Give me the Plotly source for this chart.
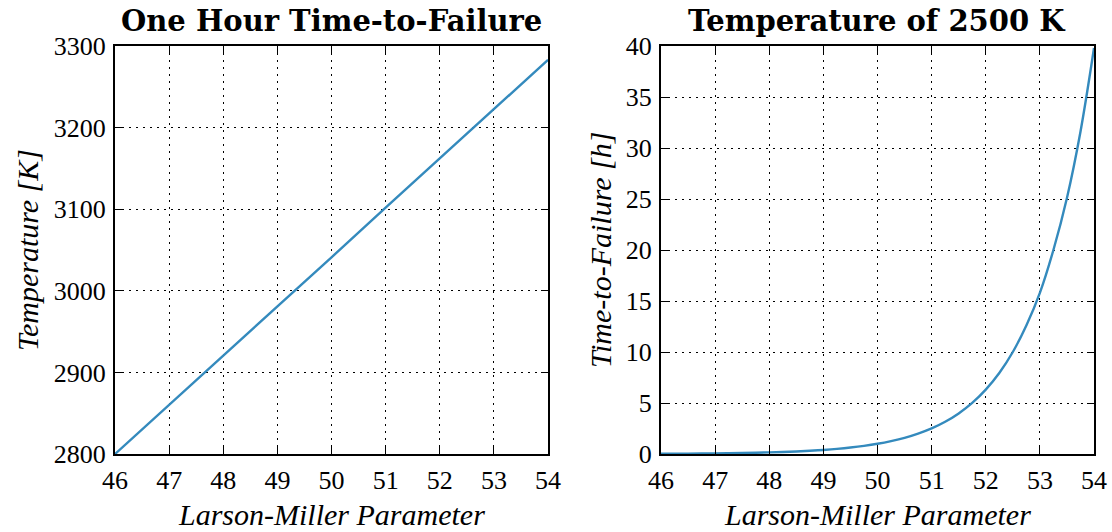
import plotly.graph_objects as go

# Left panel: one hour time-to-failure
lmp_left = [46, 47, 48, 49, 50, 51, 52, 53, 54]
temp_left = [2800, 2860, 2921, 2981, 3041, 3102, 3162, 3222, 3283]

# Right panel: temperature of 2500 K
lmp_right = [46.0, 46.25, 46.5, 46.75, 47.0, 47.25, 47.5, 47.75, 48.0, 48.25, 48.5, 48.75,
             49.0, 49.25, 49.5, 49.75, 50.0, 50.25, 50.5, 50.75, 51.0, 51.25, 51.5, 51.75,
             52.0, 52.25, 52.5, 52.75, 53.0, 53.25, 53.5, 53.75, 54.0]
ttf_right = [0.025, 0.032, 0.040, 0.050, 0.063, 0.079, 0.10, 0.126, 0.158, 0.20, 0.251, 0.316,
             0.398, 0.501, 0.631, 0.794, 1.0, 1.26, 1.58, 2.0, 2.51, 3.16, 3.98, 5.01,
             6.31, 7.94, 10.0, 12.6, 15.8, 20.0, 25.1, 31.6, 39.8]

x_ticks = [46, 47, 48, 49, 50, 51, 52, 53, 54]
y_left_ticks = [2800, 2900, 3000, 3100, 3200, 3300]
y_right_ticks = [0, 5, 10, 15, 20, 25, 30, 35, 40]

titles = ["One Hour Time-to-Failure", "Temperature of 2500 K"]
x_title = "Larson-Miller Parameter"
y_titles = ["Temperature [K]", "Time-to-Failure [h]"]

LINE = "#348ABD"
FONT = "Liberation Serif, Times New Roman, serif"
TITLE_FONT = "DejaVu Serif, serif"

fig = go.Figure()
fig.add_trace(go.Scatter(x=lmp_left, y=temp_left, mode="lines",
                         line=dict(color=LINE, width=2.4), xaxis="x", yaxis="y",
                         showlegend=False))
fig.add_trace(go.Scatter(x=lmp_right, y=ttf_right, mode="lines",
                         line=dict(color=LINE, width=2.4, shape="spline"),
                         xaxis="x2", yaxis="y2", showlegend=False))

common = dict(showline=True, linecolor="black", linewidth=2, mirror="ticks",
              ticks="inside", ticklen=7, tickwidth=1.3, tickcolor="black",
              showgrid=True, gridcolor="black", gridwidth=1, griddash="2px,5px",
              zeroline=False, automargin=False, ticklabelstandoff=2,
              tickfont=dict(family=FONT, size=26, color="black"))

W, H = 1112, 532
xdom1 = [115 / W, 548 / W]
xdom2 = [661 / W, 1094 / W]
ydom = [1 - 454 / H, 1 - 46 / H]

ann_font = dict(family=FONT, size=30, color="black")
title_font = dict(family=TITLE_FONT, size=29, color="black")

fig.update_layout(
    width=W, height=H,
    margin=dict(l=0, r=0, t=0, b=0, autoexpand=False),
    paper_bgcolor="white", plot_bgcolor="white",
    font=dict(family=FONT, color="black"),
    xaxis=dict(domain=xdom1, range=[46, 54], tickvals=x_ticks, anchor="y", **common),
    yaxis=dict(domain=ydom, range=[2800, 3300], tickvals=y_left_ticks, anchor="x", **common),
    xaxis2=dict(domain=xdom2, range=[46, 54], tickvals=x_ticks, anchor="y2", **common),
    yaxis2=dict(domain=ydom, range=[0, 40], tickvals=y_right_ticks, anchor="x2", **common),
    annotations=[
        dict(text="<b>" + titles[0] + "</b>", x=(xdom1[0] + xdom1[1]) / 2, y=1 - 21 / H,
             xref="paper", yref="paper", xanchor="center", yanchor="middle",
             showarrow=False, font=title_font),
        dict(text="<b>" + titles[1] + "</b>", x=(xdom2[0] + xdom2[1]) / 2, y=1 - 21 / H,
             xref="paper", yref="paper", xanchor="center", yanchor="middle",
             showarrow=False, font=title_font),
        dict(text="<i>" + x_title + "</i>", x=(xdom1[0] + xdom1[1]) / 2, y=1 - 514 / H,
             xref="paper", yref="paper", xanchor="center", yanchor="middle",
             showarrow=False, font=ann_font),
        dict(text="<i>" + x_title + "</i>", x=(xdom2[0] + xdom2[1]) / 2, y=1 - 514 / H,
             xref="paper", yref="paper", xanchor="center", yanchor="middle",
             showarrow=False, font=ann_font),
        dict(text="<i>" + y_titles[0] + "</i>", x=27 / W, y=(ydom[0] + ydom[1]) / 2,
             xref="paper", yref="paper", xanchor="center", yanchor="middle", textangle=-90,
             showarrow=False, font=ann_font),
        dict(text="<i>" + y_titles[1] + "</i>", x=600 / W, y=(ydom[0] + ydom[1]) / 2,
             xref="paper", yref="paper", xanchor="center", yanchor="middle", textangle=-90,
             showarrow=False, font=ann_font),
    ],
)

fig.write_html("out.html")
